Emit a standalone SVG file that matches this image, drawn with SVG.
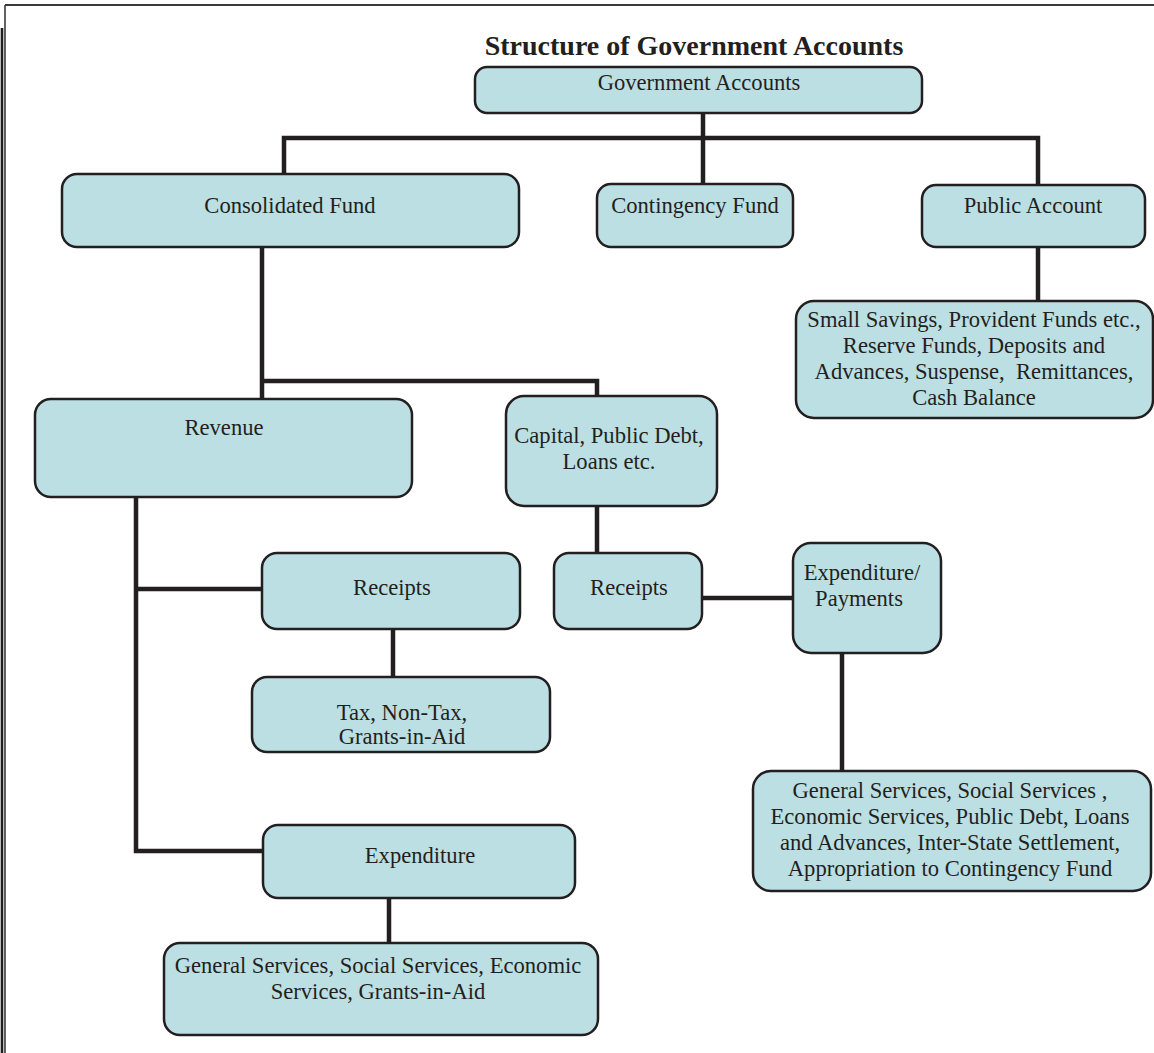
<svg xmlns="http://www.w3.org/2000/svg" width="1154" height="1053" viewBox="0 0 1154 1053">
<style>
.box{fill:#bcdfe3;stroke:#231f20;stroke-width:2.5}
.t{font-family:"Liberation Serif","Times New Roman",serif;font-size:22.6px;fill:#231f20;text-anchor:middle}
.title{font-family:"Liberation Serif","Times New Roman",serif;font-size:28px;font-weight:bold;fill:#231f20;text-anchor:middle}
.c{fill:none;stroke:#231f20;stroke-width:4.5;stroke-linejoin:miter}
</style>
<rect width="1154" height="1053" fill="#ffffff"/>
<g id="frame">
<path d="M5,5 H1154" stroke="#3a3a3a" stroke-width="2.2" fill="none"/>
<path d="M5,5 V1053" stroke="#3a3a3a" stroke-width="1.6" fill="none"/>
<path d="M2,28 V1053" stroke="#231f20" stroke-width="2.6" fill="none"/>
</g>
<text class="title" x="694" y="55">Structure of Government Accounts</text>
<g id="connectors">
<path class="c" d="M703,113 V184"/>
<path class="c" d="M284,174 V138 H1038 V185"/>
<path class="c" d="M1038,247 V301"/>
<path class="c" d="M262,247 V399"/>
<path class="c" d="M262,381 H597 V396"/>
<path class="c" d="M597,506 V553"/>
<path class="c" d="M702,598 H793"/>
<path class="c" d="M842,653 V771"/>
<path class="c" d="M136,497 V851 H263"/>
<path class="c" d="M136,589 H262"/>
<path class="c" d="M393,629 V677"/>
<path class="c" d="M389,898 V943"/>
</g>
<g id="government-accounts">
<rect class="box" x="475" y="67" width="447" height="46" rx="12"/>
<text class="t" x="699" y="90">Government Accounts</text>
</g>
<g id="consolidated-fund">
<rect class="box" x="62" y="174" width="457" height="73" rx="15"/>
<text class="t" x="290" y="213">Consolidated Fund</text>
</g>
<g id="contingency-fund">
<rect class="box" x="597" y="184" width="196" height="63" rx="14"/>
<text class="t" x="695" y="213">Contingency Fund</text>
</g>
<g id="public-account">
<rect class="box" x="922" y="185" width="223" height="62" rx="14"/>
<text class="t" x="1033" y="213">Public Account</text>
</g>
<g id="small-savings">
<rect class="box" x="796" y="301" width="357" height="117" rx="18"/>
<text class="t" x="974" y="327">Small Savings, Provident Funds etc.,</text>
<text class="t" x="974" y="353">Reserve Funds, Deposits and</text>
<text class="t" x="974" y="379" xml:space="preserve">Advances, Suspense,  Remittances,</text>
<text class="t" x="974" y="405">Cash Balance</text>
</g>
<g id="revenue">
<rect class="box" x="35" y="399" width="377" height="98" rx="16"/>
<text class="t" x="224" y="435">Revenue</text>
</g>
<g id="capital">
<rect class="box" x="506" y="396" width="211" height="110" rx="18"/>
<text class="t" x="609" y="443">Capital, Public Debt,</text>
<text class="t" x="609" y="469">Loans etc.</text>
</g>
<g id="receipts-revenue">
<rect class="box" x="262" y="553" width="258" height="76" rx="15"/>
<text class="t" x="392" y="595">Receipts</text>
</g>
<g id="receipts-capital">
<rect class="box" x="554" y="553" width="148" height="76" rx="15"/>
<text class="t" x="629" y="595">Receipts</text>
</g>
<g id="expenditure-payments">
<rect class="box" x="793" y="543" width="148" height="110" rx="18"/>
<text class="t" x="862" y="580">Expenditure/</text>
<text class="t" x="859" y="606">Payments</text>
</g>
<g id="tax">
<rect class="box" x="252" y="677" width="298" height="75" rx="15"/>
<text class="t" x="402" y="720">Tax, Non-Tax,</text>
<text class="t" x="402" y="744">Grants-in-Aid</text>
</g>
<g id="services-capital">
<rect class="box" x="753" y="771" width="398" height="120" rx="18"/>
<text class="t" x="950" y="798">General Services, Social Services ,</text>
<text class="t" x="950" y="824">Economic Services, Public Debt, Loans</text>
<text class="t" x="950" y="850">and Advances, Inter-State Settlement,</text>
<text class="t" x="950" y="876">Appropriation to Contingency Fund</text>
</g>
<g id="expenditure">
<rect class="box" x="263" y="825" width="312" height="73" rx="15"/>
<text class="t" x="420" y="863">Expenditure</text>
</g>
<g id="services-revenue">
<rect class="box" x="164" y="943" width="434" height="92" rx="16"/>
<text class="t" x="378" y="973">General Services, Social Services, Economic</text>
<text class="t" x="378" y="999">Services, Grants-in-Aid</text>
</g>
</svg>
